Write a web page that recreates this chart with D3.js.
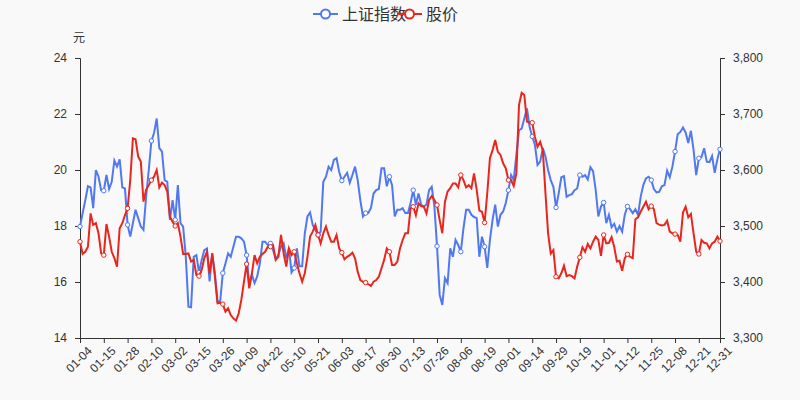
<!DOCTYPE html>
<html><head><meta charset="utf-8">
<script src="https://cdn.jsdelivr.net/npm/d3@7"></script>
<style>body{margin:0;background:#f9f9f9;font-family:"Noto Sans CJK SC","Noto Sans",sans-serif}</style>
</head><body><svg id="c" width="800" height="400"></svg>
<script>
const tickLabels=["01-04","01-15","01-28","02-10","03-02","03-15","03-26","04-09","04-22","05-10","05-21","06-03","06-17","06-30","07-13","07-26","08-06","08-19","09-01","09-14","09-29","10-19","11-01","11-12","11-25","12-08","12-21","12-31"];
const indexValues=[3499,3523,3546,3571,3569,3532,3600,3588,3564,3563,3591,3566,3579,3617,3606,3619,3569,3567,3502,3481,3505,3529,3514,3499,3493,3552,3600,3652,3666,3692,3639,3633,3582,3579,3511,3546,3511,3573,3505,3499,3445,3356,3355,3445,3448,3417,3439,3457,3460,3401,3451,3416,3365,3365,3416,3433,3451,3445,3463,3481,3481,3478,3472,
3448,3395,3413,3398,3410,3433,3472,3472,3466,3469,3457,3441,3448,3463,3469,3442,3460,3417,3425,3460,3428,3428,3487,3517,3524,3502,3493,3484,3490,3579,3588,3606,3600,3618,3621,3597,3581,3588,3595,3577,3591,3606,3582,3546,3517,3523,3523,3532,3558,3564,3566,3603,3603,3571,3588,3573,3517,3529,3529,3532,
3523,3523,3541,3564,3538,3558,3538,3535,3538,3564,3570,3535,3464,3377,3359,3407,3398,3460,3445,3475,3466,3454,3496,3529,3529,3520,3516,3514,3445,3481,3463,3425,3475,3511,3538,3499,3520,3526,3541,3564,3591,3582,3627,3671,3674,3692,3710,3677,3660,3645,3609,3615,3639,3624,3600,3582,3570,3533,
3558,3587,3589,3552,3555,3557,3564,3567,3591,3588,3591,3583,3605,3598,3564,3517,3535,3542,3505,3520,3498,3504,3490,3500,3490,3520,3535,3530,3523,3530,3520,3552,3573,3585,3588,3582,3566,3560,3561,3571,3573,3599,3587,3606,3633,3664,3668,3676,3667,3648,3670,3636,3591,3621,3623,3639,3615,3614,3625,3595,3619,3637];
const priceValues=[17.44,17.0,17.08,17.26,18.45,18.04,18.1,17.74,17.02,16.96,18.07,17.62,17.08,16.85,16.55,17.92,18.1,18.39,18.63,19.64,21.13,21.1,20.48,20.3,18.87,19.29,19.46,19.64,19.76,20.0,19.38,19.55,19.46,19.23,18.33,18.15,18.0,18.1,17.62,17.0,17.0,17.02,16.73,16.79,16.25,16.21,16.43,16.85,17.08,16.31,17.02,16.19,15.24,15.26,15.21,14.94,15.06,14.82,14.7,14.62,14.88,15.36,16.01,
16.64,15.77,16.31,16.96,16.67,16.9,17.0,17.08,17.26,17.26,17.32,16.79,16.9,17.68,17.02,16.55,17.2,16.96,17.08,16.67,16.31,16.01,16.31,16.9,17.62,17.8,18.04,17.68,17.38,17.74,17.98,17.68,17.44,17.44,17.68,17.2,17.05,16.81,16.9,16.96,17.05,16.85,16.37,16.07,16.01,15.98,15.92,15.86,16.01,16.07,16.19,16.49,16.79,17.2,17.08,16.61,16.61,16.73,17.2,17.5,
17.74,17.74,18.63,18.69,18.39,18.81,18.71,18.69,18.45,18.93,19.07,18.93,18.75,18.21,17.74,18.87,19.23,19.35,19.52,19.52,19.38,19.82,19.64,19.38,19.46,19.35,19.88,19.29,18.55,18.51,18.12,19.17,20.42,20.71,21.07,20.65,20.54,20.24,20.06,19.64,19.64,19.43,19.88,22.32,22.76,22.68,21.73,21.69,21.69,21.19,20.83,21.01,20.71,19.17,17.74,17.02,17.14,16.19,
16.13,16.31,16.58,16.21,16.25,16.21,16.13,16.55,16.88,17.24,17.08,17.36,17.2,17.44,17.62,17.5,16.93,17.68,17.38,17.4,17.6,17.26,16.73,16.76,16.4,16.85,16.99,16.9,16.85,18.24,18.31,18.51,18.69,18.87,18.6,18.71,18.6,18.1,18.05,18.02,18.04,18.19,17.8,17.74,17.71,17.68,17.44,18.48,18.69,18.31,18.43,17.74,17.08,17.0,17.5,17.4,17.38,17.2,17.38,17.44,17.62,17.46];
const leftTicks=[14,16,18,20,22,24], rightTicks=[3300,3400,3500,3600,3700,3800];
const N=243, step=9;
const blue="#5078f0", red="#e8261e";
const svg=d3.select("#c");
const L=80,R=720,T=58,B=338;
const x=d3.scaleLinear().domain([0,N-1]).range([L,R]);
const yL=d3.scaleLinear().domain([14,24]).range([B,T]);
const yR=d3.scaleLinear().domain([3300,3800]).range([B,T]);
const tickIdx=tickLabels.map((d,i)=>i<tickLabels.length-1?i*step:N-1);
const ax="#333";
svg.append("g").attr("transform",`translate(${L},0)`).call(d3.axisLeft(yL).tickValues(leftTicks).tickSize(5).tickPadding(8))
 .call(g=>{g.selectAll("text").attr("font-size",12).attr("fill","#333");g.selectAll("line,path").attr("stroke",ax);});
svg.append("g").attr("transform",`translate(${R},0)`).call(d3.axisRight(yR).tickValues(rightTicks).tickFormat(d3.format(",")).tickSize(5).tickPadding(8))
 .call(g=>{g.selectAll("text").attr("font-size",12).attr("fill","#333");g.selectAll("line,path").attr("stroke",ax);});
const gx=svg.append("g").attr("transform",`translate(0,${B})`).call(d3.axisBottom(x).tickValues(tickIdx).tickFormat((d,i)=>tickLabels[i]).tickSize(5).tickSizeOuter(0));
gx.selectAll("line,path").attr("stroke",ax);
gx.selectAll("text").attr("font-size",12).attr("fill","#333").attr("text-anchor","end").attr("transform","translate(4,2) rotate(-45)").attr("dy","0.5em").attr("dx","-0.2em");
svg.append("text").attr("x",79).attr("y",42).attr("text-anchor","middle").attr("font-size",12).attr("fill","#333").text("元");
function series(vals,y,col){
 svg.append("path").datum(vals).attr("fill","none").attr("stroke",col).attr("stroke-width",2)
  .attr("d",d3.line().x((d,i)=>x(i)).y(d=>y(d)));
 svg.append("g").selectAll("circle").data(vals.map((v,i)=>[i,v]).filter(d=>d[0]%step===0||d[0]===N-1))
  .join("circle").attr("cx",d=>x(d[0])).attr("cy",d=>y(d[1])).attr("r",2.2).attr("fill","#fff").attr("stroke",col).attr("stroke-width",1);
}
series(indexValues,yR,blue);
series(priceValues,yL,red);
const leg=[["上证指数",blue,313],["股价",red,397]];
leg.forEach(([t,c,lx])=>{
 const g=svg.append("g");
 g.append("line").attr("x1",lx).attr("x2",lx+25).attr("y1",14).attr("y2",14).attr("stroke",c).attr("stroke-width",2);
 g.append("circle").attr("cx",lx+12.5).attr("cy",14).attr("r",4.5).attr("fill","#fff").attr("stroke",c).attr("stroke-width",2);
 g.append("text").attr("x",lx+29).attr("y",20).attr("font-size",16).attr("fill","#333").text(t);
});
</script></body></html>
